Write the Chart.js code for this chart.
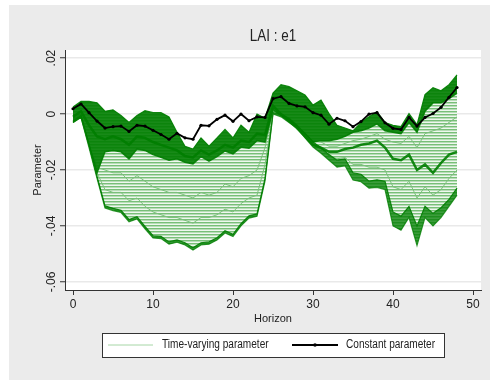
<!DOCTYPE html>
<html>
<head>
<meta charset="utf-8">
<script src="https://cdn.jsdelivr.net/npm/chart.js@4.4.0/dist/chart.umd.min.js"></script>
<style>
  html, body { margin: 0; padding: 0; background: #fff; }
  canvas { display: block; }
</style>
</head>
<body>
<canvas id="chart" width="490" height="380"></canvas>
<script>
// Horizon (x categories)
const horizon = [0,1,2,3,4,5,6,7,8,9,10,11,12,13,14,15,16,17,18,19,20,21,22,23,24,
  25,26,27,28,29,30,31,32,33,34,35,36,37,38,39,40,41,42,43,44,45,46,47,48];

// Constant parameter (black line)
const constParam = [0.0019, 0.0036, 0.0005, -0.0025, -0.0050, -0.0045, -0.0043, -0.0062, -0.0040, -0.0043,
  -0.0058, -0.0073, -0.0090, -0.0069, -0.0085, -0.0090, -0.0040, -0.0042, -0.0019, -0.0004,
  -0.0026, 0.0000, -0.0024, -0.0010, -0.0012, 0.0055, 0.0062, 0.0038, 0.0029, 0.0026,
  0.0005, -0.0004, -0.0036, -0.0015, -0.0024, -0.0045, -0.0027, 0.0000, 0.0005, -0.0031,
  -0.0051, -0.0055, -0.0012, -0.0043, -0.0012, 0.0002, 0.0024, 0.0060, 0.0095];

// Time-varying parameter: upper envelope of all paths
const tvTop = [0.0025, 0.0045, 0.0045, 0.0040, 0.0010, 0.0015, -0.0005, -0.0030, -0.0005, 0.0012,
  0.0005, 0.0005, -0.0010, -0.0065, -0.0115, -0.0125, -0.0085, -0.0115, -0.0085, -0.0055,
  -0.0085, -0.0040, -0.0065, 0.0000, -0.0015, 0.0075, 0.0105, 0.0098, 0.0083, 0.0068,
  0.0032, 0.0050, 0.0002, -0.0040, -0.0050, -0.0060, -0.0030, -0.0010, 0.0008, -0.0030,
  -0.0040, -0.0045, 0.0002, -0.0038, 0.0070, 0.0094, 0.0083, 0.0105, 0.0140];

// lower edge of the dense (dark) bundle of paths
const tvDenseLow = [-0.0030, -0.0010, -0.0110, -0.0210, -0.0135, -0.0130, -0.0135, -0.0160, -0.0125, -0.0130,
  -0.0145, -0.0155, -0.0165, -0.0160, -0.0172, -0.0178, -0.0152, -0.0168, -0.0152, -0.0132,
  -0.0142, -0.0118, -0.0122, -0.0095, -0.0100, 0.0015, -0.0005, -0.0022, -0.0045, -0.0070,
  -0.0100, -0.0095, -0.0095, -0.0090, -0.0080, -0.0065, -0.0060, -0.0050, -0.0035, -0.0060,
  -0.0065, -0.0070, -0.0030, -0.0065, 0.0010, 0.0040, 0.0040, 0.0055, 0.0075];

// a dark path that splits off in the second half
const tvMidPath = [-0.0010, 0.0010, -0.0040, -0.0080, -0.0090, -0.0080, -0.0090, -0.0110, -0.0080, -0.0085,
  -0.0100, -0.0110, -0.0120, -0.0130, -0.0150, -0.0155, -0.0130, -0.0145, -0.0130, -0.0110,
  -0.0120, -0.0095, -0.0100, -0.0070, -0.0075, 0.0030, 0.0000, -0.0025, -0.0050, -0.0080,
  -0.0110, -0.0120, -0.0135, -0.0135, -0.0125, -0.0120, -0.0110, -0.0105, -0.0095, -0.0120,
  -0.0160, -0.0165, -0.0145, -0.0200, -0.0180, -0.0210, -0.0175, -0.0145, -0.0135];

// two light paths inside the spread
const tvLightA = [-0.0020, 0.0000, -0.0110, -0.0190, -0.0200, -0.0210, -0.0210, -0.0240, -0.0220, -0.0240,
  -0.0260, -0.0270, -0.0280, -0.0280, -0.0290, -0.0300, -0.0280, -0.0290, -0.0280, -0.0250,
  -0.0260, -0.0230, -0.0220, -0.0200, -0.0120, 0.0010, 0.0000, -0.0020, -0.0045, -0.0070,
  -0.0095, -0.0100, -0.0115, -0.0115, -0.0105, -0.0095, -0.0090, -0.0080, -0.0070, -0.0090,
  -0.0100, -0.0105, -0.0080, -0.0120, -0.0070, -0.0060, -0.0050, -0.0030, -0.0010];

const tvLightB = [-0.0025, -0.0005, -0.0115, -0.0210, -0.0270, -0.0280, -0.0280, -0.0310, -0.0300, -0.0330,
  -0.0350, -0.0360, -0.0370, -0.0370, -0.0380, -0.0390, -0.0370, -0.0370, -0.0360, -0.0340,
  -0.0350, -0.0320, -0.0300, -0.0290, -0.0180, 0.0005, -0.0005, -0.0025, -0.0045, -0.0075,
  -0.0105, -0.0125, -0.0150, -0.0160, -0.0155, -0.0180, -0.0180, -0.0190, -0.0190, -0.0200,
  -0.0260, -0.0270, -0.0240, -0.0300, -0.0260, -0.0290, -0.0270, -0.0230, -0.0200];

// upper edge of the lowest bundle of paths
const tvLowPath = [-0.0025, -0.0005, -0.0110, -0.0222, -0.0328, -0.0337, -0.0344, -0.0377, -0.0367, -0.0402,
  -0.0435, -0.0437, -0.0457, -0.0450, -0.0460, -0.0478, -0.0460, -0.0457, -0.0442, -0.0417,
  -0.0430, -0.0392, -0.0364, -0.0357, -0.0230, 0.0005, 0.0000, -0.0015, -0.0040, -0.0070,
  -0.0100, -0.0120, -0.0145, -0.0165, -0.0160, -0.0210, -0.0215, -0.0240, -0.0235, -0.0240,
  -0.0350, -0.0365, -0.0330, -0.0400, -0.0330, -0.0355, -0.0335, -0.0305, -0.0265];

// lower envelope of all paths
const tvBottom = [-0.0030, -0.0012, -0.0120, -0.0230, -0.0336, -0.0345, -0.0352, -0.0385, -0.0375, -0.0410,
  -0.0443, -0.0445, -0.0465, -0.0458, -0.0468, -0.0486, -0.0468, -0.0465, -0.0450, -0.0425,
  -0.0438, -0.0400, -0.0372, -0.0365, -0.0240, 0.0000, -0.0010, -0.0030, -0.0050, -0.0085,
  -0.0118, -0.0140, -0.0165, -0.0190, -0.0185, -0.0236, -0.0242, -0.0265, -0.0262, -0.0270,
  -0.0400, -0.0415, -0.0370, -0.0470, -0.0370, -0.0400, -0.0370, -0.0330, -0.0290];

const xTicks = [0, 10, 20, 30, 40, 50];
const yTicks = [-0.06, -0.04, -0.02, 0, 0.02];
const yTickLabels = ['-.06', '-.04', '-.02', '0', '.02'];
const legendLabels = ['Time-varying parameter', 'Constant parameter'];

const FONT = "'Liberation Sans', Arial, sans-serif";
const SQUEEZE = 0.84;   // Stata text is narrower than Arial
const DARK = 'rgba(0,125,0,0.9)';
const PALE_LINE = '#a6d6a6';

const canvas = document.getElementById('chart');
const ctx = canvas.getContext('2d');

// striped fill for the spread of light paths
const tile = document.createElement('canvas');
tile.width = 4; tile.height = 3;
const tctx = tile.getContext('2d');
tctx.fillStyle = '#eef7ee'; tctx.fillRect(0, 0, 4, 3);
tctx.fillStyle = '#78bf78'; tctx.fillRect(0, 0, 4, 1);
tctx.fillStyle = '#b8ddb8'; tctx.fillRect(0, 1, 4, 1);
const stripes = ctx.createPattern(tile, 'repeat');

function narrowText(c, text, x, y) {
  c.save();
  c.translate(x, y);
  c.scale(SQUEEZE, 1);
  c.fillText(text, 0, 0);
  c.restore();
}

const stataFrame = {
  id: 'stataFrame',
  beforeDraw(chart) {
    const { ctx, chartArea: a, width, height } = chart;
    ctx.save();
    ctx.fillStyle = '#fff';
    ctx.fillRect(0, 0, width, height);
    ctx.fillStyle = '#ebebeb';
    ctx.fillRect(9, 5, width - 9, height - 5);
    ctx.fillStyle = '#fff';
    ctx.fillRect(a.left, a.top, a.right - a.left, a.bottom - a.top);
    ctx.restore();
  },
  afterDraw(chart) {
    const { ctx, chartArea: a } = chart;
    const y = chart.scales.y;
    ctx.save();
    ctx.fillStyle = '#222';

    // title
    ctx.font = '16px ' + FONT;
    ctx.textAlign = 'center';
    ctx.textBaseline = 'middle';
    narrowText(ctx, 'LAI : e1', (a.left + a.right) / 2, 37);

    // vertical y tick labels (Stata style)
    ctx.font = '12px ' + FONT;
    yTicks.forEach((v, i) => {
      ctx.save();
      ctx.translate(52, y.getPixelForValue(v));
      ctx.rotate(-Math.PI / 2);
      ctx.fillText(yTickLabels[i], 0, 0);
      ctx.restore();
    });

    // legend box
    const lx = 102, ly = 333, lw = 342, lh = 24, my = ly + lh / 2;
    ctx.fillStyle = '#fff';
    ctx.fillRect(lx, ly, lw, lh);
    ctx.strokeStyle = '#333';
    ctx.lineWidth = 1;
    ctx.strokeRect(lx + 0.5, ly + 0.5, lw, lh);

    ctx.strokeStyle = PALE_LINE;
    ctx.lineWidth = 1;
    ctx.beginPath(); ctx.moveTo(108, my); ctx.lineTo(153, my); ctx.stroke();

    ctx.strokeStyle = '#000';
    ctx.lineWidth = 2;
    ctx.beginPath(); ctx.moveTo(292, my); ctx.lineTo(338, my); ctx.stroke();
    ctx.fillStyle = '#000';
    ctx.beginPath(); ctx.arc(315, my, 1.8, 0, Math.PI * 2); ctx.fill();

    ctx.fillStyle = '#222';
    ctx.textAlign = 'left';
    narrowText(ctx, legendLabels[0], 162, my);
    narrowText(ctx, legendLabels[1], 346, my);
    ctx.restore();
  }
};

const toXY = arr => arr.map((v, i) => ({ x: horizon[i], y: v }));

// datasets with higher index are drawn first
new Chart(ctx, {
  type: 'line',
  data: {
    datasets: [
      { // 0
        label: legendLabels[1], data: toXY(constParam),
        borderColor: '#000', borderWidth: 1.8,
        pointRadius: 1.6, pointBackgroundColor: '#000', pointBorderWidth: 0,
        fill: false
      },
      { // 1
        data: toXY(tvMidPath), borderColor: DARK, borderWidth: 2.5,
        pointRadius: 0, fill: false
      },
      { // 2
        data: toXY(tvLowPath), borderColor: DARK, borderWidth: 1.2,
        backgroundColor: 'rgba(0,125,0,0.75)', pointRadius: 0, fill: 6
      },
      { // 3
        data: toXY(tvDenseLow), borderColor: DARK, borderWidth: 1.5,
        backgroundColor: DARK, pointRadius: 0, fill: 7
      },
      { // 4
        data: toXY(tvLightA), borderColor: '#7cc17c', borderWidth: 1,
        pointRadius: 0, fill: false
      },
      { // 5
        data: toXY(tvLightB), borderColor: '#7cc17c', borderWidth: 1,
        pointRadius: 0, fill: false
      },
      { // 6
        data: toXY(tvBottom), borderColor: 'rgba(0,125,0,0.75)', borderWidth: 1.2,
        pointRadius: 0, fill: false
      },
      { // 7
        label: legendLabels[0], data: toXY(tvTop), borderColor: DARK, borderWidth: 1.2,
        backgroundColor: stripes, pointRadius: 0, fill: 6
      }
    ]
  },
  options: {
    responsive: false,
    animation: false,
    devicePixelRatio: 1,
    layout: { autoPadding: false, padding: { left: 0, top: 50, right: 9, bottom: 54 } },
    plugins: {
      legend: { display: false },
      tooltip: { enabled: false },
      title: { display: false }
    },
    scales: {
      x: {
        type: 'linear', min: -1, max: 51,
        afterBuildTicks: s => { s.ticks = xTicks.map(v => ({ value: v })); },
        afterFit: s => { s.height = 36; },
        grid: { drawOnChartArea: false, drawTicks: true, tickLength: 5, tickColor: '#333', tickWidth: 1 },
        border: { display: true, color: '#333', width: 1 },
        ticks: { color: '#222', font: { family: FONT, size: 12 }, padding: 2, maxRotation: 0 },
        title: { display: true, text: 'Horizon', color: '#222', font: { family: FONT, size: 11 }, padding: 0 }
      },
      y: {
        min: -0.0629, max: 0.0229,
        afterBuildTicks: s => { s.ticks = yTicks.map(v => ({ value: v })); },
        afterFit: s => { s.width = 65; },
        grid: { color: '#e9e9e9', lineWidth: 1.5, drawTicks: true, tickLength: 5, tickColor: '#333', tickWidth: 1 },
        border: { display: true, color: '#333', width: 1 },
        ticks: { display: false },
        title: { display: true, text: 'Parameter', color: '#222', font: { family: FONT, size: 11 },
                 padding: { top: 31, bottom: 0 } }
      }
    }
  },
  plugins: [stataFrame]
});
</script>
</body>
</html>
